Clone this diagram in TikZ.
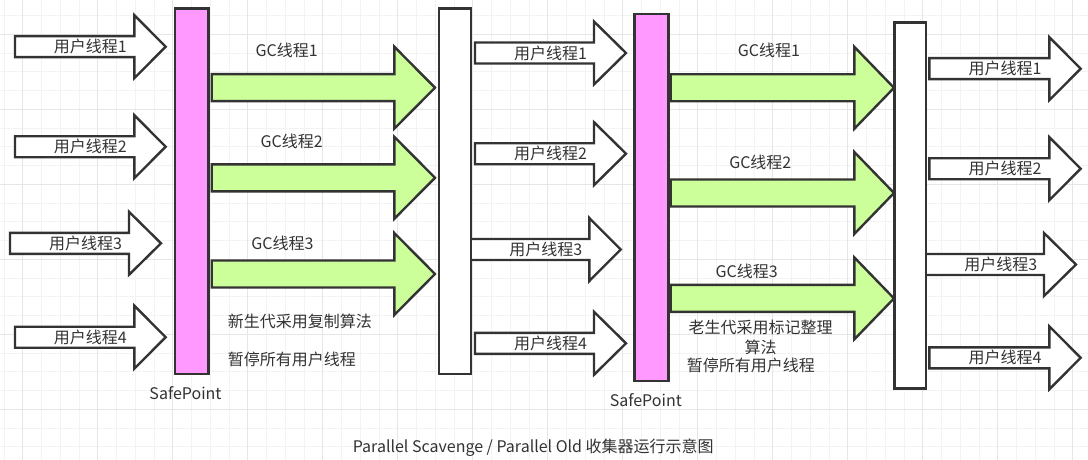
\documentclass[tikz,border=0pt]{standalone}
\usepackage{fontspec}
\setmainfont{Noto Sans CJK SC}
\usepackage{tikz}
\usetikzlibrary{positioning}
\definecolor{linec}{HTML}{333333}
\definecolor{spfill}{HTML}{FF99FF}
\definecolor{gcfill}{HTML}{CCFF99}
\definecolor{gridmin}{HTML}{F3F3F3}
\definecolor{gridmaj}{HTML}{E6E6E6}

\begin{document}
\begin{tikzpicture}[x=1pt,y=-1pt,every node/.style={text=linec,font=\fontsize{16}{20}\selectfont},lbl/.style={inner sep=1pt}]
\tikzstyle{bar}=[draw=linec, line width=2.4pt, rectangle, inner sep=0pt]
\tikzstyle{usr}=[draw=linec, line width=2.4pt, fill=white]
\tikzstyle{gcarr}=[draw=linec, line width=2.4pt, fill=gcfill]
\useasboundingbox (0,0) rectangle (1088,460);
\fill[white] (0,0) rectangle (1088,460);
% grid
\foreach \x in {3.95,22.7,...,1088}{\draw[gridmin,line width=0.8pt] (\x,0) -- (\x,460);}
\foreach \y in {15.55,34.3,...,460}{\draw[gridmin,line width=0.8pt] (0,\y) -- (1088,\y);}
\foreach \x in {22.7,97.7,...,1088}{\draw[gridmaj,line width=0.8pt] (\x,0) -- (\x,460);}
\foreach \y in {34.3,109.3,...,460}{\draw[gridmaj,line width=0.8pt] (0,\y) -- (1088,\y);}
% user threads
\foreach \xa/\xb/\xc/\y/\n [count=\i] in {15/134.3/165.7/46.7/1,15/134.3/165.7/146.7/2,10/129/161/243.3/3,15/134.3/165.7/337.2/4,
  475/594/626/53/1,475/594/626/153.7/2,470.7/589.3/620.7/249.5/3,475/594/626/343.3/4,
  929.3/1049.3/1080.7/68.7/1,929.3/1049.3/1080.7/168.7/2,925.7/1044/1076/264.5/3,929.3/1049.3/1080.7/357.8/4}{
  \draw[usr] (\xa,\y-10.5) -- (\xb,\y-10.5) -- (\xb,\y-31.5) -- (\xc,\y) -- (\xb,\y+31.5) -- (\xb,\y+10.5) -- (\xa,\y+10.5) -- cycle;
  \node[lbl] (usr\i) at ({(\xa+\xc)/2},\y) {用户线程\n};
}
% gc threads
\foreach \xa/\xb/\xc/\y/\lx/\ly/\n [count=\i] in {211.7/394.3/435/87.7/286.7/50/1,211.7/394.3/435/177.8/291.7/141.7/2,211.7/394.3/435/274/282.5/243.3/3,
  670.7/854.3/894/87.8/769/50/1,670.7/854.3/894/193/760.3/162.3/2,670.7/854.3/894/298.4/746.7/271/3}{
  \draw[gcarr] (\xa,\y-13.5) -- (\xb,\y-13.5) -- (\xb,\y-41) -- (\xc,\y) -- (\xb,\y+41) -- (\xb,\y+13.5) -- (\xa,\y+13.5) -- cycle;
  \node[lbl] (gc\i) at (\lx,\ly) {GC线程\n};
}
% bars
\node[bar, fill=spfill, minimum width=33.3, minimum height=365.7] (sp1) at (191.7,191.2) {};
\node[bar, fill=white, minimum width=31.7, minimum height=365.7] (wb1) at (454.9,191.2) {};
\node[bar, fill=spfill, minimum width=34, minimum height=366.7] (sp2) at (651.3,197.4) {};
\node[bar, fill=white, minimum width=31.4, minimum height=365.6] (wb2) at (910,205.5) {};
\node (sp1lbl) at (185.5,392.7) {SafePoint};
\node (sp2lbl) at (645.8,400) {SafePoint};
% notes
\node[anchor=west, inner sep=0pt] (newtxt) at (227.7,321) {新生代采用复制算法};
\node[anchor=west, inner sep=0pt] (stop1) at (227.7,359.3) {暂停所有用户线程};
\node[align=center, inner sep=0pt] (oldtxt) at (760.5,337.3) {老生代采用标记整理\\算法};
\node[anchor=west, inner sep=0pt] (stop2) at (686.7,365) {暂停所有用户线程};
\node (cap) at (533.3,448) {Parallel Scavenge / Parallel Old 收集器运行示意图};
\end{tikzpicture}
\end{document}
